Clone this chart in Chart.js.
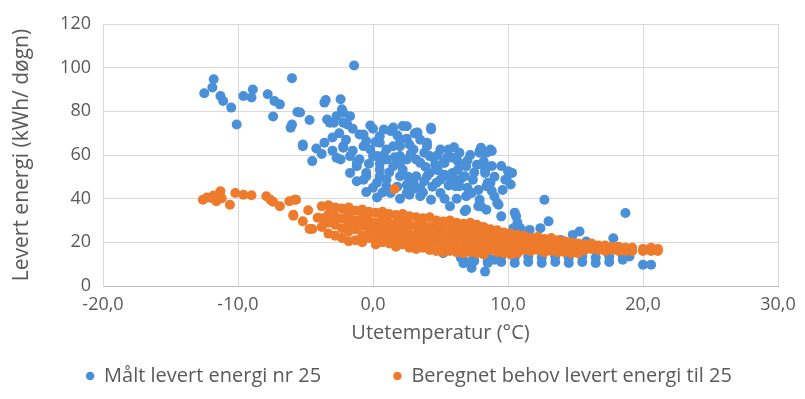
<!DOCTYPE html>
<html>
<head>
<meta charset="utf-8">
<script src="https://cdn.jsdelivr.net/npm/chart.js@4.4.1/dist/chart.umd.min.js"></script>
<style>
  html, body { margin: 0; padding: 0; background: #fff; }
  #wrap { width: 805px; height: 399px; }
</style>
</head>
<body>
<div id="wrap"><canvas id="chart-block"></canvas></div>
<script>
// Målt levert energi nr 25  [utetemperatur, kWh/døgn]
const maltLevert = [
  [-12.5,88.3],[-11.8,94.7],[-11.9,90.9],[-11.3,87],[-11.1,84.7],[-10.5,81.7],[-10.1,74],
  [-9.6,87],[-8.9,90],[-9.0,86.3],[-7.8,87.8],[-7.3,84.7],[-6.9,83.2],[-7.4,77.6],
  [-6.0,95.2],[-5.6,79.7],[-6.1,72.5],[-6.0,74],[-4.7,76],[-5.2,64],[-5.4,79.5],
  [-1.4,101],[-3.5,85.2],[-2.4,85.5],[-2.3,80.9],[-3.4,76.3],[-2.9,74.8],[-2.2,74.8],
  [-1.7,77.8],[-3.6,84],[-2.2,79.4],[-3.2,74.8],[-1.9,74],[-5.2,64.8],[-3.6,65.6],
  [-4.5,57.2],[-2.7,58.7],[-2.2,63.3],[-1.7,59.5],[-1.0,69.4],[-0.5,66.4],[-1.2,54.9],
  [-0.5,51.8],[-0.7,48.7],[-2.2,64],[-2.7,77.8],[-0.7,69.4],[-0.7,64],[-2.4,57.9],
  [-1.2,56.4],[-1.7,51.8],[-0.5,50.3],[-1.2,48],
  [0.5,68.6],[1.3,71],[2.2,73.3],[3.2,70.2],[4.3,72.5],[1.4,71.7],[2.5,73.2],[3.1,69.9],
  [2.0,67.1],[1.0,62.5],[0.3,59.5],[2.0,64],[3.0,62.5],[4.0,65.6],[5.0,62.5],[0.5,53.3],
  [1.5,54.9],[2.5,57.9],[3.5,56.4],[4.5,58.7],[5.2,56.4],[5.9,58.7],[1.0,48.7],[2.0,50.3],
  [3.0,47.3],[4.0,50.3],[5.0,48.7],[5.9,51.8],[6.9,54.9],[7.9,61],[8.7,61.8],[8.0,63.3],
  [8.7,62.5],[7.4,48.7],[6.4,45.7],[8.4,45.7],[1.3,42.6],[2.5,42.6],[3.5,41.1],[5.0,42.6],
  [6.9,41.1],[7.9,39.5],[9.2,38],[8.4,34.9],[6.9,34.9],[5.7,36.5],
  [0.8,71.7],[1.5,72.6],[3.3,70.3],[4.3,71.7],[0.5,65.6],[1.5,64],[2.7,64.8],[4.0,64],
  [0,59.5],[1.0,57.9],[2.0,59.5],[3.2,57.9],[4.2,59.5],[0.5,50.3],[2.2,53.3],[3.2,50.3],
  [4.2,51.8],[0.3,47.3],[2.5,46.4],[3.5,44.9],[4.7,47.3],[5.5,50.3],[0.7,42.8],[2.7,41.8],
  [3.7,42.8],
  [5.6,62.5],[7.9,61.8],[8.8,61.8],[8.3,53.3],[10.0,52.6],[9.8,48.7],[8.5,47.3],[6.3,53.3],
  [6.1,45.7],[7.3,42.6],[12.7,39.5],[9.3,37.2],[5.3,56.4],[6.8,50.3],[8.4,61],[8.3,51.8],
  [8.7,47.2],[9.9,48.7],[10.3,51.8],
  [-1.5,62],[-0.2,62.5],[0.8,60],[1.6,59],[2.8,60.5],[3.8,61],[4.8,60],[5.5,59],[6.3,57],
  [7.0,57.5],[7.5,52],[6.5,49],[5.6,46],[4.4,45.5],[3.0,44.5],[1.8,45.5],[0.0,45],
  [-0.3,56],[1.2,52],[2.6,50],[3.8,48],[4.8,53],[5.3,51],[6.0,48.5],[7.0,45],[7.8,44],
  [8.8,43.5],[9.6,44],[9.0,50],[9.5,55],[7.2,60],[6.4,61],[6.0,63.5],[3.5,67],[2.5,67.5],
  [1.8,69],[0.2,66],[-0.2,73.5],[0.0,72],[-1.5,72],[-2.5,70],[-3.0,68],[-4.2,63],
  [-3.8,60.5],[-3.0,62],[-2.0,67],[-1.0,58],[0.5,56],[3.9,54.5],[4.6,55.5],[2.0,56.5],
  [1.0,45.5],[5.3,40],[6.2,40],[4.3,39.5],[2.0,40],[0.3,40.5],[-0.5,43],[8.2,57],
  [8.8,55],[7.7,55.5],[10.2,46.5],[9.0,41],
  [8.0,36.5],[9.5,31.9],[10.6,31.9],[13.0,29.6],[12.4,26.5],[11.6,25.7],[10.9,26.5],
  [10.4,26.5],[18.7,33.4],[14.8,23.4],[15.3,25],[15.8,20.4],[17.8,21.9],[13.9,21.1],
  [10.5,33.6],[10.7,29],[6.8,34.2],[7.8,36.5],
  [20.0,9.7],[20.6,9.7],[8.3,6.6],[6.7,10.4],[7.4,12],[9.0,12],[5.2,15],[6.8,11.2],
  [7.3,8.3],[8.5,11.2],
  [6.5,13],[7.5,11.5],[8.5,10.5],[8.5,13],[9.5,11],[9.5,13.5],[10.5,10.5],[10.5,13],
  [11.5,11],[11.5,13.5],[12.5,10.5],[12.5,13],[13.5,11],[13.5,13.5],[14.5,10.5],[14.5,13],
  [15.5,11],[15.5,13.5],[16.5,10.5],[16.5,13],[17.5,11],[17.5,13.5],[18.5,12],[18.5,14],
  [19.0,13.5]
];

// Beregnet behov levert energi til 25  [utetemperatur, kWh/døgn]
const beregnetBehov = [
  [-12.6,39.5],[-12.3,40.5],[-12.0,40.3],[-11.8,41.5],[-11.6,38.8],[-11.3,43.4],[-11.2,40.2],
  [-10.6,37.2],[-10.2,42.6],[-9.6,41.8],[-9.0,41.6],[-7.9,41.1],[-7.6,39.5],[-7.4,38.6],
  [-6.9,36.5],[-6.2,38.8],[-5.7,39.5],[-5.9,32.2],[-5.2,29.6],[-4.8,34.7],[-4.7,26.1],
  [-4.1,31.3],[-5.8,39.5],[-5.9,32.6],[-4.5,26.1],[1.6,44.4],
  [-3.8,36.5],[-3.8,31],[-3.8,27],
  [-3.3,37],[-3.3,33],[-3.3,29],[-3.3,24],
  [-2.8,36],[-2.8,32],[-2.8,28],[-2.8,23],
  [-2.3,35.5],[-2.3,31],[-2.3,26.5],[-2.3,22],
  [-1.8,36],[-1.8,33],[-1.8,29],[-1.8,25],[-1.8,20.5],
  [-1.3,34.5],[-1.3,30],[-1.3,26],[-1.3,21],
  [-0.8,35],[-0.8,31.5],[-0.8,27.5],[-0.8,23],[-0.8,20],
  [-0.3,34],[-0.3,30],[-0.3,26],[-0.3,22],
  [0.2,33.5],[0.2,29],[0.2,25],[0.2,21],[0.2,19],
  [0.7,34],[0.7,30.5],[0.7,27],[0.7,23],[0.7,20],
  [1.2,33],[1.2,29],[1.2,25.5],[1.2,22],[1.2,19.5],
  [1.7,32.5],[1.7,28.5],[1.7,24.5],[1.7,21],[1.7,18],
  [2.2,33],[2.2,30],[2.2,26],[2.2,22.5],[2.2,19],
  [2.7,32],[2.7,28],[2.7,24],[2.7,20.5],[2.7,17.5],
  [3.2,31.5],[3.2,27.5],[3.2,23.5],[3.2,20],[3.2,17],
  [3.7,31],[3.7,28.5],[3.7,25],[3.7,21],[3.7,17.5],
  [4.2,31.5],[4.2,27],[4.2,23],[4.2,19.5],[4.2,16.5],
  [4.7,30],[4.7,26.5],[4.7,23.5],[4.7,20],[4.7,16],
  [5.2,29.5],[5.2,26],[5.2,22],[5.2,18.5],[5.2,15.5],
  [5.7,30],[5.7,27],[5.7,23],[5.7,19],[5.7,16],
  [6.2,29],[6.2,25.5],[6.2,22],[6.2,18],[6.2,15.5],
  [6.7,28.5],[6.7,25],[6.7,21.5],[6.7,18.5],[6.7,15],
  [7.2,29],[7.2,26],[7.2,22.5],[7.2,19],[7.2,15.5],
  [7.7,28],[7.7,24.5],[7.7,21],[7.7,17.5],[7.7,15],
  [8.2,27],[8.2,24],[8.2,20.5],[8.2,17],[8.2,14.5],
  [8.7,26],[8.7,23],[8.7,19.5],[8.7,16.5],
  [9.2,25.5],[9.2,22],[9.2,18.5],[9.2,15.5],
  [9.7,24.5],[9.7,21],[9.7,18],[9.7,15],
  [10.2,24],[10.2,21],[10.2,17.5],[10.2,14.5],
  [10.7,23.5],[10.7,20.5],[10.7,17],[10.7,15],
  [11.2,23],[11.2,20],[11.2,16.5],
  [11.7,22],[11.7,19],[11.7,16],
  [12.2,22.5],[12.2,19.5],[12.2,16.5],
  [12.7,21.5],[12.7,18.5],[12.7,15.5],
  [13.2,22],[13.2,19],[13.2,16],
  [13.7,21],[13.7,18],[13.7,15.5],
  [14.2,20.5],[14.2,17.5],[14.2,15.5],
  [14.7,20],[14.7,17.5],[14.7,15],
  [15.2,19.5],[15.2,17],[15.2,15],
  [15.7,19],[15.7,16.5],
  [16.2,19.5],[16.2,17],
  [16.7,18.5],[16.7,16.5],
  [17.2,18.5],[17.2,16],
  [17.7,18],[17.7,16.5],
  [18.2,18],[18.2,16],
  [18.7,17.5],[18.7,16],
  [19.2,17.5],[19.2,16],
  [20.0,17],[20.0,16],
  [20.6,17.5],[20.6,16],
  [21.1,17],[21.1,16]
];

const seriesNames = ['Målt levert energi nr 25', 'Beregnet behov levert energi til 25'];
const xTickValues = [-20, -10, 0, 10, 20, 30];
const yTickValues = [0, 20, 40, 60, 80, 100, 120];

const textColor = '#595959';
const gridColor = '#d9d9d9';
const fontFamily = '"Open Sans", Lato, sans-serif';

function toPoints(list) {
  return list.map(p => ({ x: p[0], y: p[1] }));
}

let ctx = document.getElementById('chart-block').getContext('2d');
let energiChart = new Chart(ctx, {
  type: 'scatter',
  data: {
    datasets: [
      {
        label: seriesNames[0],
        data: toPoints(maltLevert),
        backgroundColor: '#4a90d9',
        borderWidth: 0,
        pointRadius: 5,
        order: 1
      },
      {
        label: seriesNames[1],
        data: toPoints(beregnetBehov),
        backgroundColor: '#ee7b2c',
        borderWidth: 0,
        pointRadius: 5,
        order: 0
      }
    ]
  },
  options: {
    responsive: true,
    maintainAspectRatio: false,
    animation: false,
    layout: { padding: { left: 40, right: 27, top: 24, bottom: 3 } },
    plugins: {
      tooltip: { enabled: false },
      legend: {
        position: 'bottom',
        labels: {
          usePointStyle: true,
          pointStyle: 'circle',
          boxWidth: 8,
          boxHeight: 6,
          padding: 10,
          color: textColor,
          font: { family: fontFamily, size: 20 },
          sort: (a, b) => a.datasetIndex - b.datasetIndex,
          generateLabels: function(chart) {
            const items = Chart.defaults.plugins.legend.labels.generateLabels(chart);
            items.forEach(it => {
              if (it.datasetIndex === 0) it.text = it.text + '            ';
            });
            return items;
          }
        }
      }
    },
    scales: {
      x: {
        type: 'linear',
        min: xTickValues[0],
        max: xTickValues[xTickValues.length - 1],
        afterBuildTicks: s => { s.ticks = xTickValues.map(v => ({ value: v })); },
        afterFit: s => { s.height = 70; },
        grid: { color: gridColor, drawTicks: false },
        border: { color: '#bfbfbf' },
        ticks: {
          padding: 8,
          color: textColor,
          font: { family: fontFamily, size: 18 },
          callback: v => v.toFixed(1).replace('.', ',')
        },
        title: {
          display: true,
          text: 'Utetemperatur (°C)',
          color: textColor,
          font: { family: fontFamily, size: 20 },
          padding: { top: 0, bottom: 11 }
        }
      },
      y: {
        min: yTickValues[0],
        max: yTickValues[yTickValues.length - 1],
        afterBuildTicks: s => { s.ticks = yTickValues.map(v => ({ value: v })); },
        afterFit: s => { s.width = 63; },
        grid: { color: gridColor, drawTicks: false },
        border: { color: gridColor },
        ticks: {
          padding: 12,
          color: textColor,
          font: { family: fontFamily, size: 18 }
        },
        title: {
          display: true,
          text: 'Levert energi (kWh/ døgn)',
          color: textColor,
          font: { family: fontFamily, size: 21 },
          padding: { top: -31, bottom: 0 }
        }
      }
    }
  }
});
</script>
</body>
</html>
